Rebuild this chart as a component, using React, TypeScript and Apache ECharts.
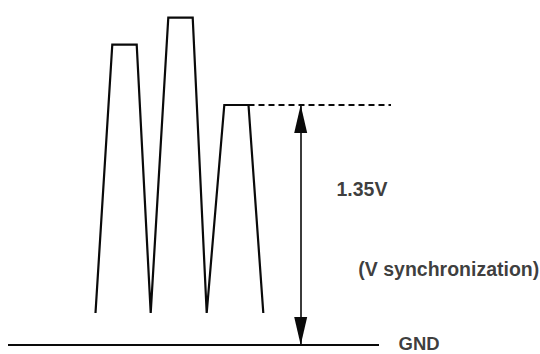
import React, { useEffect, useRef } from "react";
import * as echarts from "echarts";

// Time axis (arbitrary units) and voltage values (V)
const waveTimes = [95.5, 112.3, 136.7, 150.7, 168.3, 192.7, 206.7, 224.3, 248.5, 263.3];
const waveVolts = [0.18, 1.69, 1.69, 0.18, 1.842, 1.842, 0.18, 1.35, 1.35, 0.18];

const syncLevel = 1.35;
const refLineTimes = [248.5, 391];
const groundTimes = [8, 379];
const groundLevel = 0;
const arrowTime = 300.7;

const annotationTexts = ["1.35V", "(V synchronization)", "GND"];
const annotationTimes = [336.5, 358.3, 398.5];
const annotationVolts = [0.875, 0.425, 0.008];
const annotationSizes = [19.5, 19.5, 18.5];

const X_MIN = 0;
const X_MAX = 540;
const Y_MIN = -0.050625;
const Y_MAX = 1.940625;

const FONT = "'Liberation Sans', Arial, Helvetica, sans-serif";

export default function App() {
  const ref = useRef<HTMLDivElement>(null);
  useEffect(() => {
    if (!ref.current) return;
    const chart = echarts.init(ref.current, null, { renderer: "svg" });
    const ink = "#0a0a0a";
    chart.setOption({
      animation: false,
      backgroundColor: "#ffffff",
      grid: { left: 0, right: 0, top: 0, bottom: 0 },
      xAxis: { type: "value", min: X_MIN, max: X_MAX, show: false },
      yAxis: { type: "value", min: Y_MIN, max: Y_MAX, show: false },
      series: [
        {
          type: "line",
          data: waveTimes.map((t, i) => [t, waveVolts[i]]),
          symbol: "none",
          lineStyle: { color: ink, width: 2.2, join: "miter" },
          silent: true,
        },
        {
          type: "line",
          data: refLineTimes.map((t) => [t, syncLevel]),
          symbol: "none",
          lineStyle: { color: ink, width: 2, type: [6, 4] },
          silent: true,
          markLine: {
            silent: true,
            symbol: ["triangle", "triangle"],
            symbolSize: [13, 28],
            symbolOffset: [[0, 14], [0, 14]],
            label: { show: false },
            lineStyle: { color: ink, width: 1.6, type: "solid" },
            itemStyle: { color: ink },
            emphasis: { disabled: true },
            data: [[{ coord: [arrowTime, syncLevel] }, { coord: [arrowTime, groundLevel] }]],
          },
        },
        {
          type: "line",
          data: groundTimes.map((t) => [t, groundLevel]),
          symbol: "none",
          lineStyle: { color: ink, width: 2 },
          silent: true,
        },
        {
          type: "scatter",
          data: annotationTexts.map((s, i) => ({
            value: [annotationTimes[i], annotationVolts[i]],
            name: s,
            label: { fontSize: annotationSizes[i], lineHeight: annotationSizes[i] - 4 },
          })),
          symbolSize: 0,
          silent: true,
          label: {
            show: true,
            position: "right",
            distance: 0,
            formatter: (p: any) => p.name,
            color: ink,
            fontFamily: FONT,
            fontWeight: "bold",
          },
        },
      ],
    });
    return () => chart.dispose();
  }, []);
  return (
    <div
      ref={ref}
      style={{ position: "fixed", left: 0, top: 0, width: 540, height: 354, background: "#fff" }}
    />
  );
}
